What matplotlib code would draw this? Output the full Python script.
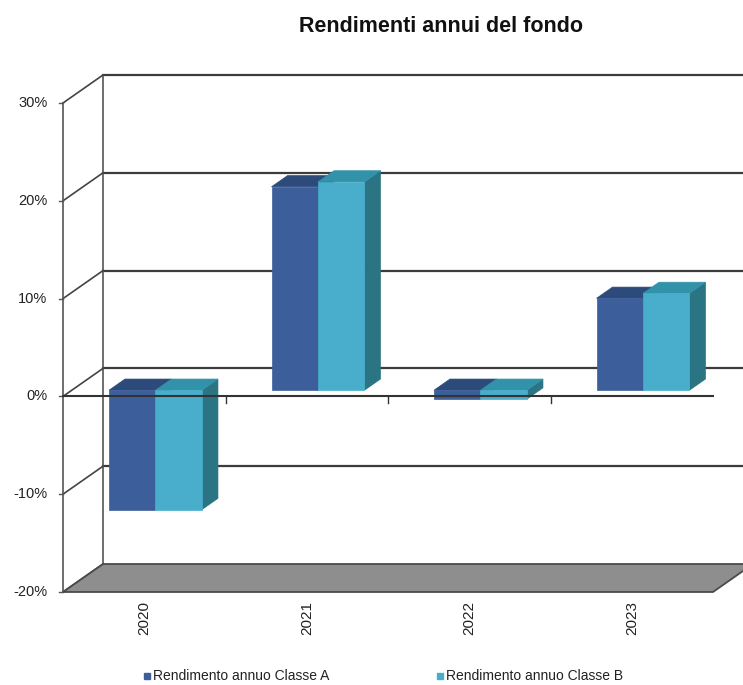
import matplotlib.pyplot as plt
from matplotlib.patches import Polygon
from matplotlib.lines import Line2D

anni = ['2020', '2021', '2022', '2023']
classe_a = [-12.2, 20.8, -0.9, 9.4]
classe_b = [-12.2, 21.3, -0.9, 9.9]
livelli = [-20, -10, 0, 10, 20, 30]
etichette_y = ['-20%', '-10%', '0%', '10%', '20%', '30%']
serie = ['Rendimento annuo Classe A', 'Rendimento annuo Classe B']
titolo = 'Rendimenti annui del fondo'

plt.rcParams['font.family'] = ['Liberation Sans', 'DejaVu Sans']

# finto 3D: la profondità sposta i punti verso destra e verso l'alto
DX, DY = 0.246, 2.86
Z0, Z1 = 0.22, 0.62   # profondità delle barre
W = 0.286             # larghezza di una barra

col_a = {'front': '#3c5f9b', 'top': '#2c4a7a', 'side': '#2a4670'}
col_b = {'front': '#48aecb', 'top': '#3292aa', 'side': '#2b7483'}
griglia = '#3c3c3c'


def proj(x, y, z):
    return (x + z * DX, y + z * DY)


def barra(ax, x0, x1, v, col):
    lo, hi = min(0, v), max(0, v)
    front = [proj(x0, lo, Z0), proj(x1, lo, Z0), proj(x1, hi, Z0), proj(x0, hi, Z0)]
    top = [proj(x0, hi, Z0), proj(x1, hi, Z0), proj(x1, hi, Z1), proj(x0, hi, Z1)]
    side = [proj(x1, lo, Z0), proj(x1, hi, Z0), proj(x1, hi, Z1), proj(x1, lo, Z1)]
    for pts, k in ((side, 'side'), (top, 'top'), (front, 'front')):
        ax.add_patch(Polygon(pts, closed=True, fc=col[k], ec=col[k], lw=0.5, zorder=3))


fig = plt.figure(figsize=(7.43, 6.85), dpi=100)
ax = fig.add_axes([0, 0, 1, 1])
ax.set_xlim(-0.8877, 3.6846)
ax.set_ylim(-29.51, 40.53)
ax.axis('off')

x_left = -0.5
x_right = len(anni) - 0.5

# parete di fondo con la griglia
for lv in livelli[1:]:
    ax.plot([x_left + DX, x_right + DX + 0.3], [lv + DY] * 2, color=griglia, lw=1.6, zorder=1)
ax.plot([x_left + DX] * 2, [livelli[0] + DY, livelli[-1] + DY], color='#555555', lw=1.2, zorder=1)

# parete laterale
for lv in livelli:
    ax.plot([x_left, x_left + DX], [lv, lv + DY], color='#444444', lw=1.2, zorder=1)
ax.plot([x_left] * 2, [livelli[0], livelli[-1]], color='#555555', lw=1.2, zorder=1)
for lv, lab in zip(livelli, etichette_y):
    ax.plot([x_left - 0.025, x_left], [lv, lv], color='#555555', lw=1.0, zorder=1)
    ax.text(x_left - 0.095, lv, lab, ha='right', va='center', fontsize=10.5, color='#222222')

# pavimento
fondo = livelli[0]
ax.add_patch(Polygon([(x_left, fondo), (x_right, fondo), proj(x_right, fondo, 1), proj(x_left, fondo, 1)],
                     closed=True, fc='#8e8e8e', ec='#4a4a4a', lw=1.3, zorder=2))

# barre
for i, (a, b) in enumerate(zip(classe_a, classe_b)):
    c = i + 0.015
    barra(ax, c - W, c, a, col_a)
    barra(ax, c, c + W, b, col_b)

# asse dello zero in primo piano
ax.plot([x_left, x_right], [0, 0], color='#333333', lw=1.5, zorder=5)
for i in range(1, len(anni)):
    ax.plot([i - 0.5] * 2, [0, -0.7], color='#333333', lw=1.0, zorder=5)

for i, anno in enumerate(anni):
    ax.text(i, -20.9, anno, rotation=90, ha='center', va='top', fontsize=11, color='#222222')

fig.text(0.594, 1 - 27 / 685, titolo, ha='center', va='center', fontsize=15.5, fontweight='bold', color='#111111')

# legenda
y_leg = 1 - 676 / 685
for xm, col, lab in ((147 / 743, col_a['front'], serie[0]), (440 / 743, col_b['front'], serie[1])):
    fig.add_artist(Line2D([xm], [y_leg], marker='s', markersize=5, color=col, transform=fig.transFigure))
    fig.text(xm + 6 / 743, y_leg, lab, ha='left', va='center', fontsize=10, color='#222222')

fig.savefig('out.png', dpi=100)
